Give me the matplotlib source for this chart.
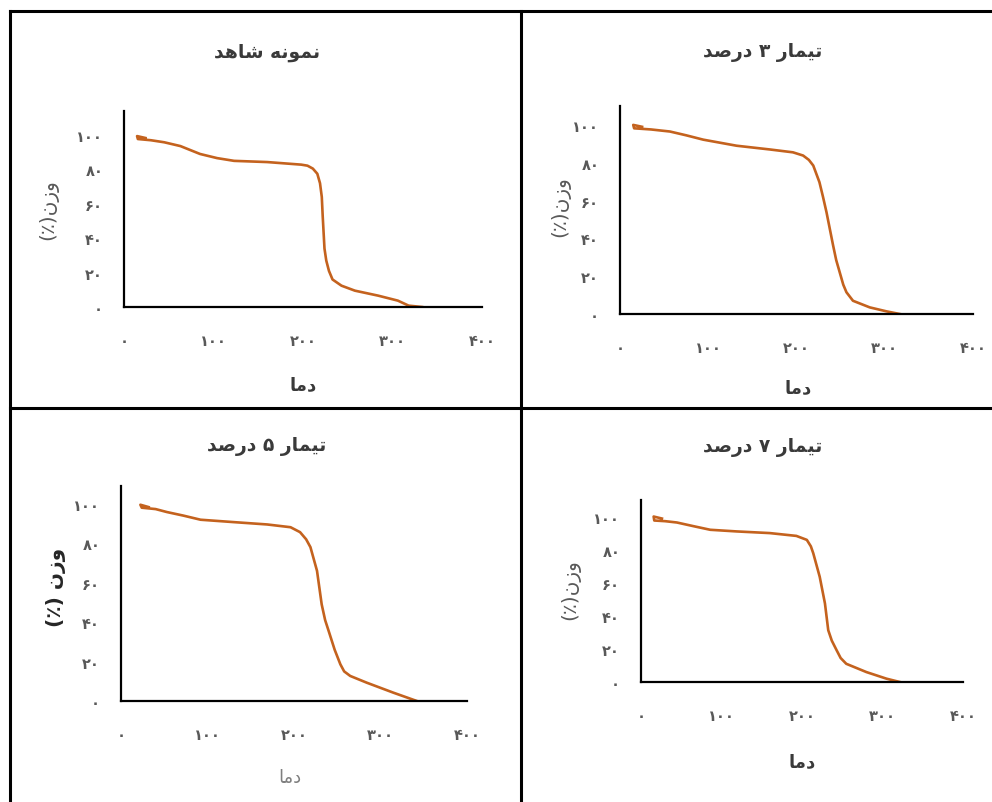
import matplotlib
matplotlib.use('Agg')
import matplotlib.pyplot as plt
from matplotlib.lines import Line2D

# Persian text is drawn with presentation forms, reversed for RTL display
FORMS = {
    'ا': ('\uFE8D', '\uFE8E', None, None),
    'ت': ('\uFE95', '\uFE96', '\uFE97', '\uFE98'),
    'د': ('\uFEA9', '\uFEAA', None, None),
    'ر': ('\uFEAD', '\uFEAE', None, None),
    'ز': ('\uFEAF', '\uFEB0', None, None),
    'ش': ('\uFEB5', '\uFEB6', '\uFEB7', '\uFEB8'),
    'ص': ('\uFEB9', '\uFEBA', '\uFEBB', '\uFEBC'),
    'م': ('\uFEE1', '\uFEE2', '\uFEE3', '\uFEE4'),
    'ن': ('\uFEE5', '\uFEE6', '\uFEE7', '\uFEE8'),
    'ه': ('\uFEE9', '\uFEEA', '\uFEEB', '\uFEEC'),
    'و': ('\uFEED', '\uFEEE', None, None),
    'ی': ('\uFBFC', '\uFBFD', '\uFBFE', '\uFBFF'),
}


def fa(s):
    out = []
    for i, c in enumerate(s):
        if c not in FORMS:
            out.append(c)
            continue
        prev = s[i - 1] if i > 0 else ''
        nxt = s[i + 1] if i + 1 < len(s) else ''
        jp = prev in FORMS and FORMS[prev][2] is not None
        jn = nxt in FORMS and FORMS[c][2] is not None
        iso, fin, ini, med = FORMS[c]
        if jp and jn:
            out.append(med)
        elif jp:
            out.append(fin)
        elif jn:
            out.append(ini)
        else:
            out.append(iso)
    vis = ''.join(reversed(out))
    return vis.translate(str.maketrans('()', ')('))


def fa_num(v):
    return str(v).translate(str.maketrans('0123456789', '۰۱۲۳۴۵۶۷۸۹'))


titles = ['نمونه شاهد', 'تیمار ۳ درصد', 'تیمار ۵ درصد', 'تیمار ۷ درصد']
xlabel = 'دما'
ylabels = ['وزن(٪)', 'وزن(٪)', 'وزن (٪)', 'وزن(٪)']
xticks = [0, 100, 200, 300, 400]
yticks = [0, 20, 40, 60, 80, 100]

# temperature / weight curves
x1 = [24, 14.6, 15.5, 30, 45, 63, 85, 104, 123, 160, 198, 205, 211, 216, 219, 221, 222, 224, 226, 229, 233, 243, 258, 284, 306, 318, 333]
y1 = [98.3, 99.4, 97.7, 97.0, 95.8, 93.6, 89, 86.6, 85, 84.3, 82.8, 82.2, 80.5, 77.5, 72, 64, 53, 34, 27, 21, 16, 12.4, 9.5, 6.6, 3.7, 0.8, 0]
x2 = [25, 15, 16, 35, 56.6, 75, 94.3, 132, 170, 196, 207.5, 214, 219, 226, 230, 234, 241.5, 245, 249, 253, 256.6, 264, 283, 302, 317]
y2 = [99.0, 100, 98.2, 97.6, 96.5, 94.5, 92.2, 89, 87, 85.5, 83.8, 81.5, 78.5, 69.7, 62, 53.8, 36.2, 28.5, 22, 15.5, 11.5, 7, 3.5, 1.4, 0]
x3 = [32, 22.4, 24, 40, 53, 72, 92, 130, 169, 196, 207, 214, 219, 226.6, 232, 236, 240, 247, 253.6, 258, 265, 284, 315, 342]
y3 = [98.3, 99.5, 98, 97.3, 95.8, 94, 91.9, 90.7, 89.5, 88.1, 85.6, 82, 78, 66, 49, 41, 35.6, 26, 18.6, 15, 12.7, 9.3, 4.2, 0]
x4 = [26, 15.7, 16.5, 30, 44.6, 65, 86, 119, 160, 193, 206, 211, 214, 222, 228.5, 232.6, 237, 243, 248, 255, 280, 305, 321.5]
y4 = [98.8, 100, 97.6, 97.2, 96.4, 94.2, 92, 91, 90, 88.3, 85.9, 82, 77.8, 63.6, 47.5, 31.3, 25, 19.2, 14.5, 11, 6, 2, 0]
series = [(x1, y1), (x2, y2), (x3, y3), (x4, y4)]

W, H = 992, 803
fig = plt.figure(figsize=(W / 100, H / 100), dpi=100)
plt.rcParams['font.family'] = ['DejaVu Sans']

# pixel layout of each cell: axes box, title, labels
boxes = [(124, 482, 112, 308), (620, 973, 107, 315), (121, 467, 487, 702), (641, 963, 501, 683)]
title_pos = [(267, 53), (763, 52), (267, 447), (763, 448)]
xlab_pos = [(303, 385), (798, 388), (290, 778), (802, 762)]
ylab_pos = [(48, 210), (560, 207), (56, 587), (570, 590)]
xlab_style = [('bold', '#3a3a3a'), ('bold', '#3a3a3a'), ('normal', '#7f7f7f'), ('bold', '#3a3a3a')]
ylab_style = [('normal', '#595959'), ('normal', '#595959'), ('bold', '#262626'), ('normal', '#595959')]
ytops = [114, 110, 109, 110]

for i in range(4):
    l, r, t, b = boxes[i]
    ax = fig.add_axes([l / W, 1 - b / H, (r - l) / W, (b - t) / H])
    x, y = series[i]
    ax.plot(x, y, color='#C4621E', lw=1.9, solid_joinstyle='round')
    ax.set_xlim(0, 400)
    ax.set_ylim(0, ytops[i])
    ax.set_xticks(xticks)
    ax.set_xticklabels([fa_num(v) for v in xticks], fontweight='bold')
    ax.set_yticks(yticks)
    ax.set_yticklabels([fa_num(v) for v in yticks], fontweight='bold')
    ax.tick_params(length=0, labelsize=10.5, colors='#595959')
    ax.tick_params(axis='x', pad=19)
    ax.tick_params(axis='y', pad=15)
    for s in ['top', 'right']:
        ax.spines[s].set_visible(False)
    for s in ['left', 'bottom']:
        ax.spines[s].set_linewidth(1.6)
        ax.spines[s].set_color('black')
    ax.set_facecolor('none')

    tx, ty = title_pos[i]
    fig.text(tx / W, 1 - ty / H, fa(titles[i]), ha='center', va='center',
             fontsize=13.5, fontweight='bold', color='#3a3a3a')
    lx, ly = xlab_pos[i]
    fig.text(lx / W, 1 - ly / H, fa(xlabel), ha='center', va='center',
             fontsize=13, fontweight=xlab_style[i][0], color=xlab_style[i][1])
    yx, yy = ylab_pos[i]
    fig.text(yx / W, 1 - yy / H, fa(ylabels[i]), ha='center', va='center', rotation=90,
             fontsize=14.5, fontweight=ylab_style[i][0], color=ylab_style[i][1])

# table borders
for xs, ys in [((10, 992), (12, 12)), ((10, 10), (12, 803)),
               ((520.5, 520.5), (12, 803)), ((10, 992), (409, 409))]:
    fig.add_artist(Line2D([v / W for v in xs], [1 - v / H for v in ys],
                          transform=fig.transFigure, color='black', lw=2.2))

fig.savefig('out.png', dpi=100)
